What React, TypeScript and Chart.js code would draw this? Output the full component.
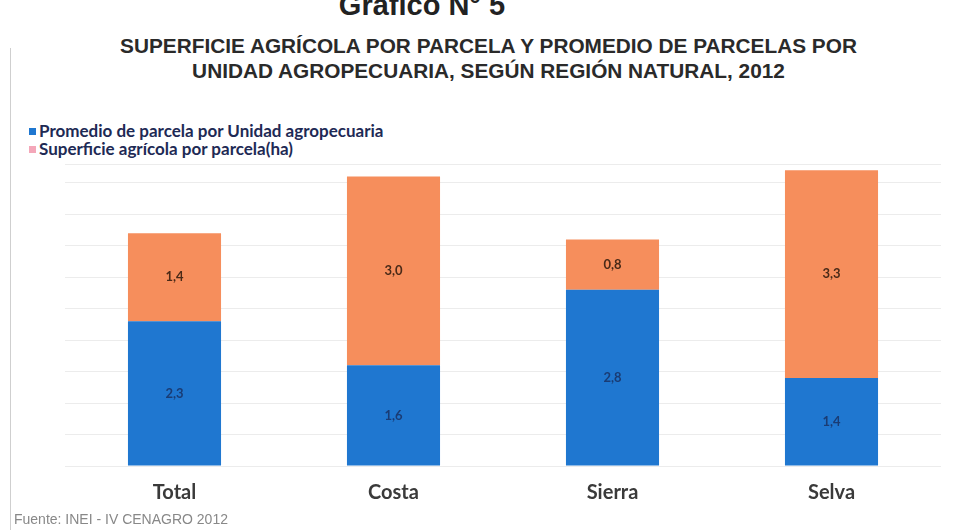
import React, { useEffect, useRef } from "react";
import { Chart, registerables } from "chart.js";

Chart.register(...registerables);

const categories = ["Total", "Costa", "Sierra", "Selva"];
const parcelasPorUnidad = [2.3, 1.6, 2.8, 1.4];
const superficiePorParcela = [1.4, 3.0, 0.8, 3.3];
const seriesLabels = [
  "Promedio de parcela por Unidad agropecuaria",
  "Superficie agrícola por parcela(ha)",
];
const seriesColors = ["#1F77D0", "#F68E5C"];
const legendColors = ["#1F77D0", "#F4A7B9"];

const fmt = (v: number) => v.toFixed(1).replace(".", ",");

const valueLabels = {
  id: "valueLabels",
  afterDatasetsDraw(chart: any) {
    const ctx = chart.ctx;
    ctx.save();
    ctx.font = "bold 13px Lato, 'DejaVu Sans', sans-serif";
    ctx.textAlign = "center";
    ctx.textBaseline = "middle";
    chart.data.datasets.forEach((ds: any, di: number) => {
      const meta = chart.getDatasetMeta(di);
      meta.data.forEach((bar: any, i: number) => {
        const y = (bar.y + bar.base) / 2;
        ctx.fillStyle = di === 0 ? "#1A3C74" : "#4A2A18";
        ctx.fillText(fmt(ds.data[i]), bar.x, y);
      });
    });
    ctx.restore();
  },
};

export default function App() {
  const ref = useRef<HTMLCanvasElement>(null);
  useEffect(() => {
    if (!ref.current) return;
    const chart = new Chart(ref.current, {
      type: "bar",
      data: {
        labels: categories,
        datasets: [
          {
            label: seriesLabels[0],
            data: parcelasPorUnidad,
            backgroundColor: seriesColors[0],
            categoryPercentage: 1,
            barPercentage: 0.425,
          },
          {
            label: seriesLabels[1],
            data: superficiePorParcela,
            backgroundColor: seriesColors[1],
            categoryPercentage: 1,
            barPercentage: 0.425,
          },
        ],
      },
      options: {
        animation: false,
        responsive: false,
        layout: { padding: { left: 65, right: 16, top: 164, bottom: 10 } },
        plugins: { legend: { display: false }, tooltip: { enabled: false } },
        scales: {
          x: {
            stacked: true,
            grid: { display: false, drawTicks: false },
            border: { display: false },
            ticks: {
              padding: 15,
              color: "#3A3A3A",
              font: { family: "Lato, 'DejaVu Sans', sans-serif", size: 20, weight: "bold" },
            },
          },
          y: {
            stacked: true,
            min: 0,
            max: 4.8,
            grid: { color: "#ECECEC", drawTicks: false },
            border: { display: false },
            ticks: { display: false, stepSize: 0.5 },
          },
        },
      },
      plugins: [valueLabels],
    });
    return () => chart.destroy();
  }, []);

  return (
    <div style={{ position: "fixed", left: 0, top: 0, width: 957, height: 530, background: "#fff", overflow: "hidden" }}>
      <div style={{ position: "absolute", left: 10, top: 48, width: 1, height: 482, background: "#CFCFCF" }} />
      <div
        style={{
          position: "absolute",
          left: 0,
          width: 844,
          top: -10,
          textAlign: "center",
          fontFamily: "'Liberation Sans', Arial, sans-serif",
          fontWeight: "bold",
          fontSize: 29,
          lineHeight: "30px",
          color: "#222",
        }}
      >
        Gráfico N° 5
      </div>
      <div
        style={{
          position: "absolute",
          left: 0,
          width: 977,
          top: 33,
          textAlign: "center",
          fontFamily: "'Liberation Sans', Arial, sans-serif",
          fontWeight: "bold",
          fontSize: 20.8,
          lineHeight: "25px",
          color: "#2A2A2A",
          whiteSpace: "nowrap",
        }}
      >
        SUPERFICIE AGRÍCOLA POR PARCELA Y PROMEDIO DE PARCELAS POR
        <br />
        UNIDAD AGROPECUARIA, SEGÚN REGIÓN NATURAL, 2012
      </div>
      {seriesLabels.map((lab, i) => (
        <div
          key={lab}
          style={{
            position: "absolute",
            left: 29,
            top: 121 + i * 18,
            height: 20,
            display: "flex",
            alignItems: "center",
            fontFamily: "Lato, 'DejaVu Sans', sans-serif",
            fontWeight: "bold",
            fontSize: 17,
            lineHeight: "20px",
            color: "#1E2A55",
            whiteSpace: "nowrap",
          }}
        >
          <span style={{ display: "inline-block", width: 7, height: 7, background: legendColors[i], marginRight: 3 }} />
          {lab}
        </div>
      ))}
      <canvas ref={ref} width={957} height={530} style={{ position: "absolute", left: 0, top: 0 }} />
      <div
        style={{
          position: "absolute",
          left: 14,
          top: 511,
          fontFamily: "'Liberation Sans', Arial, sans-serif",
          fontSize: 14,
          color: "#888",
          whiteSpace: "nowrap",
        }}
      >
        Fuente: INEI - IV CENAGRO 2012
      </div>
    </div>
  );
}
